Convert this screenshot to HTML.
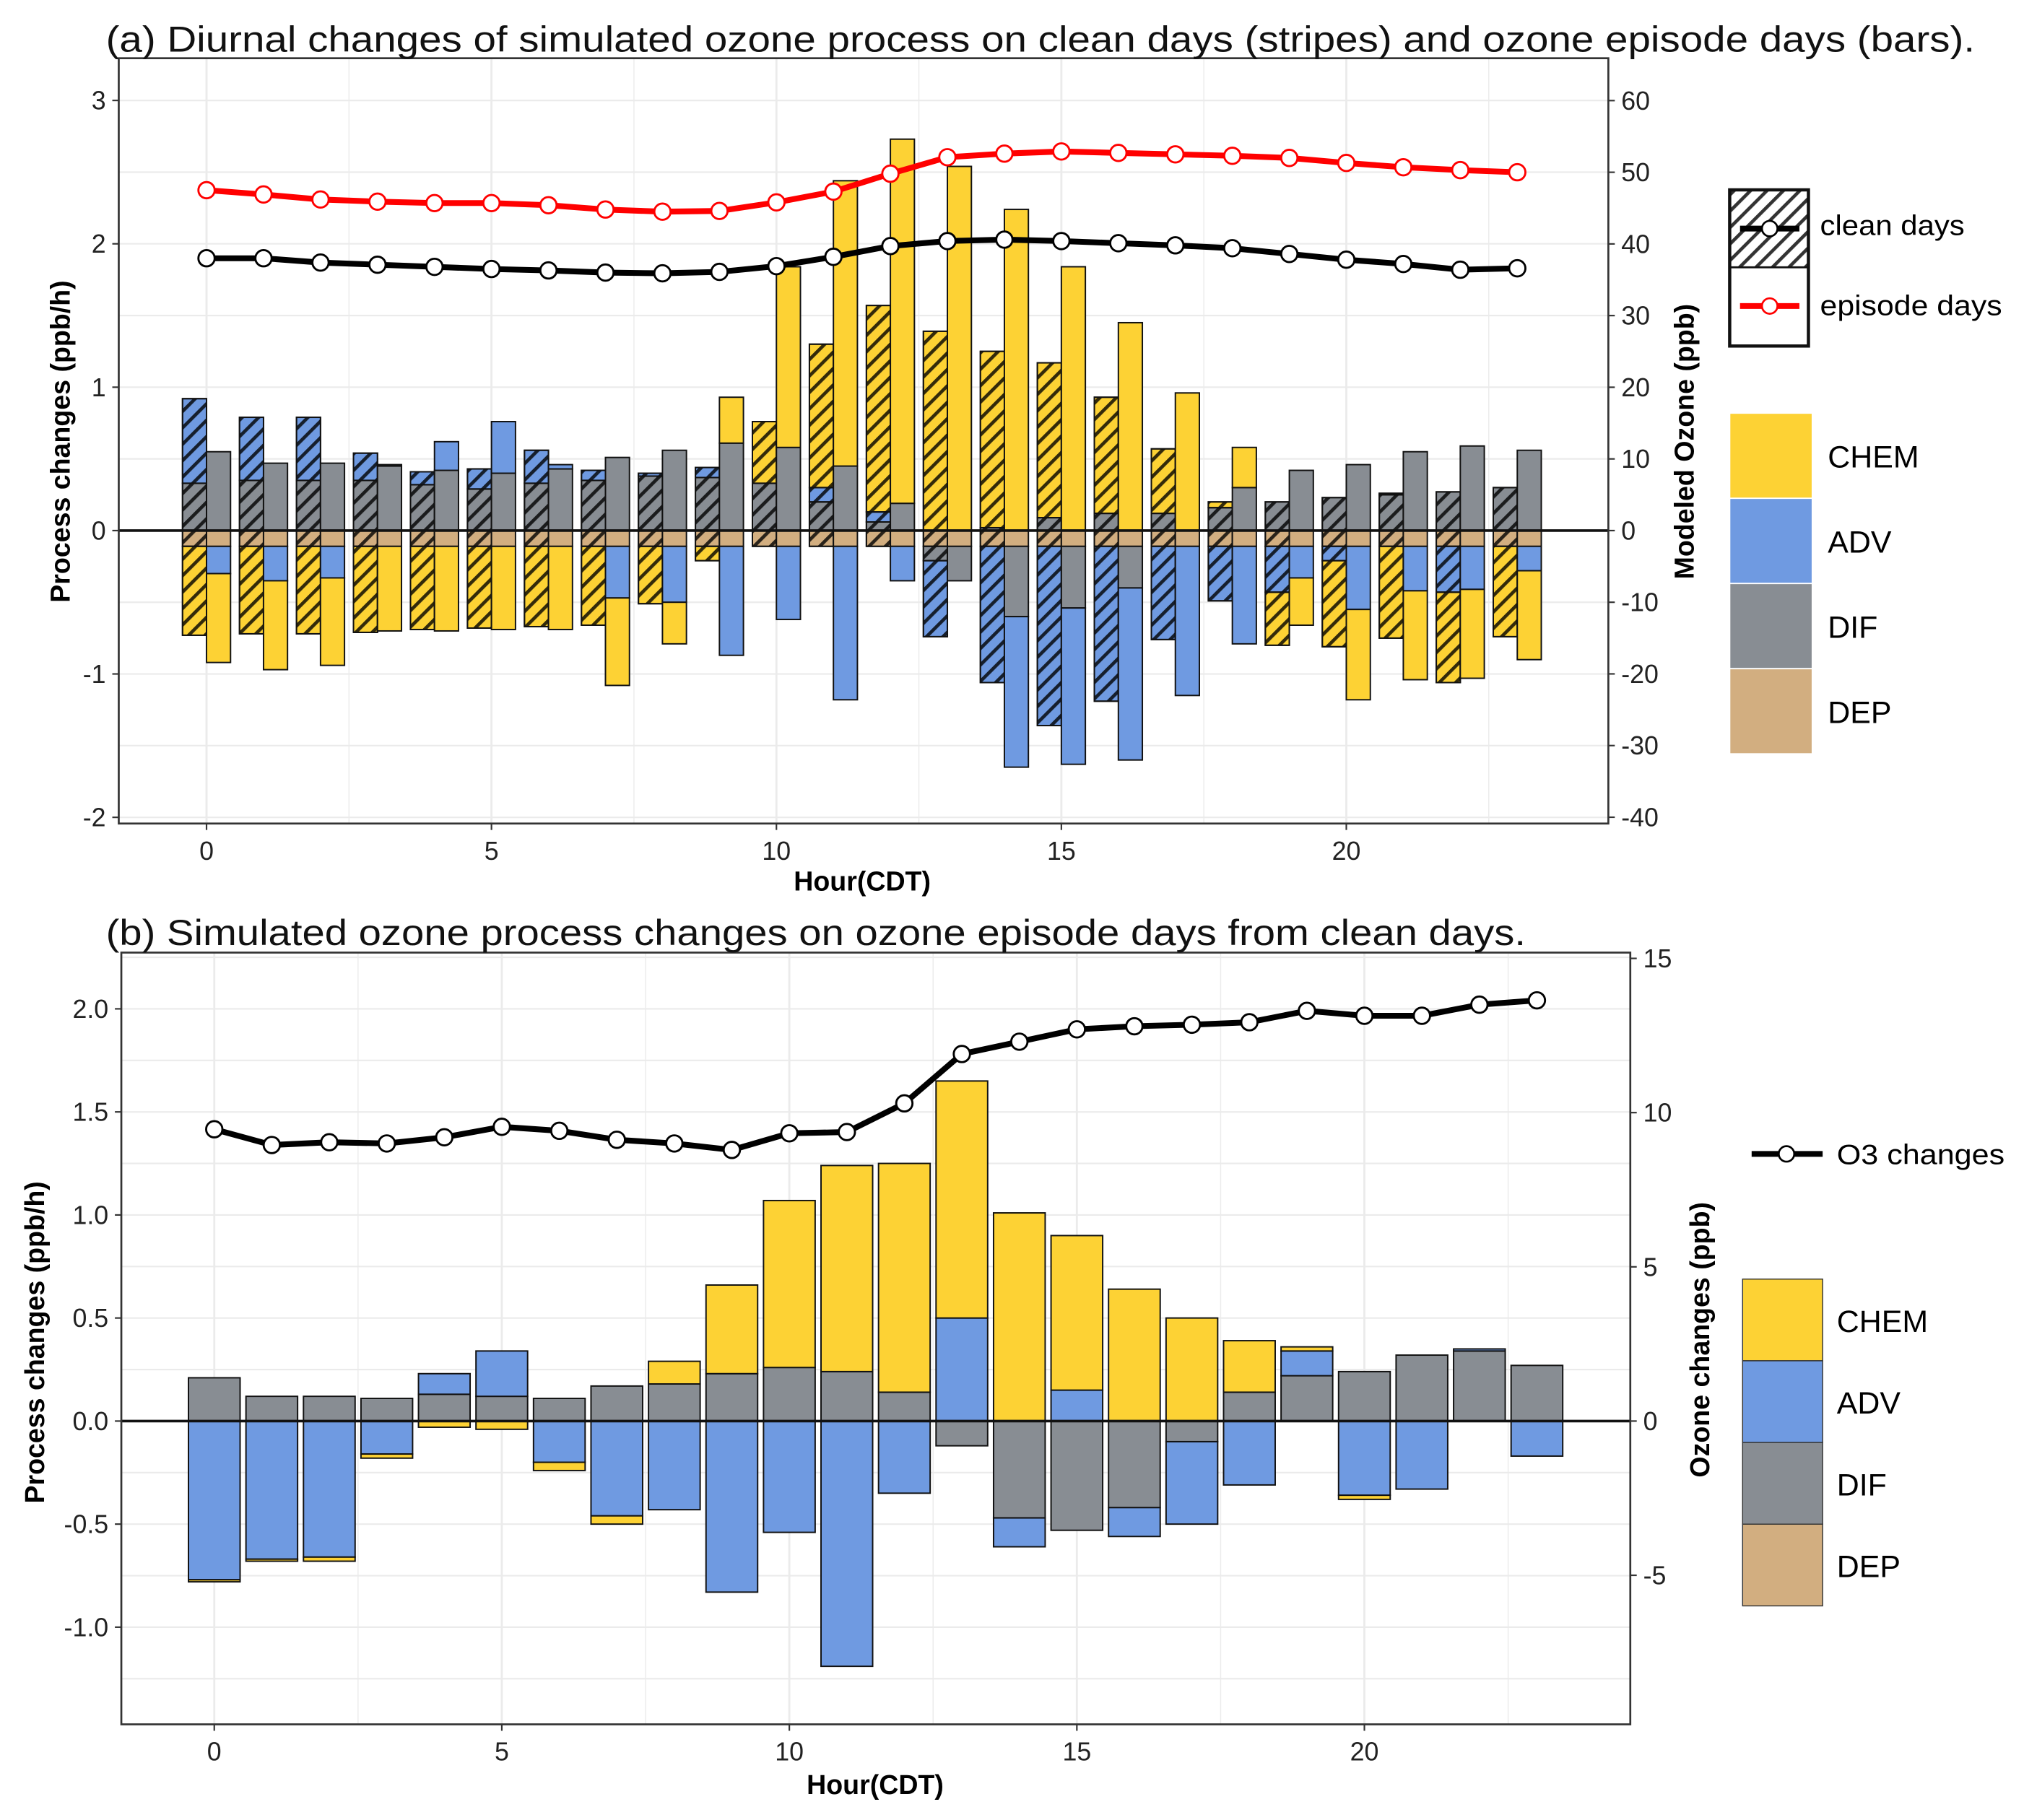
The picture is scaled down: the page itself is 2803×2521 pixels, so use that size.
<!DOCTYPE html>
<html><head><meta charset="utf-8"><style>
html,body{margin:0;padding:0;background:#fff;}
svg{display:block;font-family:"Liberation Sans",Arial,sans-serif;}
</style></head><body>
<svg id="fig" xmlns="http://www.w3.org/2000/svg" width="2803" height="2521" viewBox="0 0 1568 1410">
<defs>
<pattern id="hatch" patternUnits="userSpaceOnUse" width="9" height="9" patternTransform="rotate(45)">
<rect x="0" y="0" width="2.6" height="9" fill="#000" fill-opacity="0.8"/>
</pattern>
</defs>
<rect x="0" y="0" width="1568" height="1410" fill="#fff"/>
<g id="pa"></g>
<g id="pb"></g>
</svg>
<script>
const hours = [0,1,2,3,4,5,6,7,8,9,10,11,12,13,14,15,16,17,18,19,20,21,22,23];
// Panel a - clean days
const cleanCHEM = [-0.62,-0.61,-0.61,-0.60,-0.58,-0.57,-0.56,-0.55,-0.40,-0.10,0.43,1.00,1.44,1.39,1.23,1.08,0.81,0.45,0.04,-0.37,-0.60,-0.64,-0.63,-0.63];
const cleanADV  = [0.59,0.44,0.44,0.19,0.09,0.14,0.23,0.07,0.02,0.07,0,0.10,0.07,-0.53,-0.95,-1.25,-1.08,-0.65,-0.38,-0.32,-0.10,0.01,-0.32,0];
const cleanDIF  = [0.33,0.35,0.35,0.35,0.32,0.29,0.33,0.35,0.38,0.37,0.33,0.20,0.06,-0.10,0.02,0.09,0.12,0.12,0.16,0.20,0.23,0.25,0.27,0.30];
const cleanDEP  = [-0.11,-0.11,-0.11,-0.11,-0.11,-0.11,-0.11,-0.11,-0.11,-0.11,-0.11,-0.11,-0.11,-0.11,-0.11,-0.11,-0.11,-0.11,-0.11,-0.11,-0.11,-0.11,-0.11,-0.11];
// Panel a - episode days
const epiCHEM = [-0.62,-0.62,-0.61,-0.59,-0.59,-0.58,-0.58,-0.61,-0.29,0.32,1.26,1.99,2.54,2.54,2.24,1.84,1.45,0.96,0.28,-0.33,-0.63,-0.62,-0.62,-0.62];
const epiADV  = [-0.19,-0.24,-0.22,0.01,0.20,0.36,0.03,-0.36,-0.39,-0.76,-0.51,-1.07,-0.24,0,-1.05,-1.09,-1.20,-1.04,-0.68,-0.22,-0.44,-0.31,-0.30,-0.17];
const epiDIF  = [0.55,0.47,0.47,0.45,0.42,0.40,0.43,0.51,0.56,0.61,0.58,0.45,0.19,-0.24,-0.49,-0.43,-0.29,0,0.30,0.42,0.46,0.55,0.59,0.56];
const epiDEP  = [-0.11,-0.11,-0.11,-0.11,-0.11,-0.11,-0.11,-0.11,-0.11,-0.11,-0.11,-0.11,-0.11,-0.11,-0.11,-0.11,-0.11,-0.11,-0.11,-0.11,-0.11,-0.11,-0.11,-0.11];
const cleanO3 = [38.0,38.0,37.4,37.1,36.8,36.5,36.3,36.0,35.9,36.1,36.9,38.2,39.7,40.4,40.6,40.4,40.1,39.8,39.4,38.6,37.8,37.2,36.4,36.6];
const epiO3   = [47.5,46.9,46.2,45.9,45.7,45.7,45.4,44.8,44.5,44.6,45.8,47.3,49.8,52.1,52.6,52.9,52.7,52.5,52.3,52.0,51.3,50.7,50.3,50.0];
const aLeftTicks = [-2,-1,0,1,2,3];
const aRightTicks = [-40,-30,-20,-10,0,10,20,30,40,50,60];
const xTicks = [0,5,10,15,20];
// Panel b
const bCHEM = [-0.01,-0.01,-0.02,-0.02,-0.03,-0.04,-0.04,-0.04,0.11,0.43,0.81,1.00,1.11,1.15,1.01,0.75,0.64,0.50,0.25,0.02,-0.02,0,0,0];
const bADV  = [-0.77,-0.67,-0.66,-0.16,0.10,0.22,-0.20,-0.46,-0.43,-0.83,-0.54,-1.19,-0.35,0.50,-0.14,0.15,-0.14,-0.40,-0.31,0.12,-0.36,-0.33,0.01,-0.17];
const bDIF  = [0.21,0.12,0.12,0.11,0.13,0.12,0.11,0.17,0.18,0.23,0.26,0.24,0.14,-0.12,-0.47,-0.53,-0.42,-0.10,0.14,0.22,0.24,0.32,0.34,0.27];
const bDEP  = [0,0,0,0,0,0,0,0,0,0,0,0,0,0,0,0,0,0,0,0,0,0,0,0];
const bO3   = [9.46,8.95,9.04,9.0,9.2,9.54,9.41,9.12,9.0,8.79,9.33,9.37,10.3,11.9,12.3,12.7,12.8,12.85,12.93,13.3,13.14,13.14,13.5,13.64];
const bLeftTicks = [-1.0,-0.5,0.0,0.5,1.0,1.5,2.0];
const bRightTicks = [-5,0,5,10,15];
const COL = {CHEM:'#fdd234',ADV:'#6f9ae1',DIF:'#888d93',DEP:'#d2ae80'};
const NS = 'http://www.w3.org/2000/svg';
function mk(parent, tag, attrs, text){
  const e = document.createElementNS(NS, tag);
  for (const k in attrs) e.setAttribute(k, attrs[k]);
  if (text !== undefined) e.textContent = text;
  parent.appendChild(e);
  return e;
}
const axA = {x:h=>160+h*44.15, y:v=>411-v*111.1, yr:v=>411-v*5.553};
const axB = {x:h=>166+h*44.55, y:v=>1101-v*159.7, yr:v=>1101-v*23.9};

function drawPanel(g, box, ax, leftTicks, leftMinor, rightTicks, fmt){
  const bg = mk(g,'rect',{x:box[0],y:box[1],width:box[2]-box[0],height:box[3]-box[1],fill:'#fff'});
  
  
  for (let h=-2.5; h<=25; h+=2.5){
    const x = ax.x(h); if (x<box[0]||x>box[2]) continue;
    const l = mk(g,'line',{x1:x,x2:x,y1:box[1],y2:box[3],stroke:'#ebebeb','stroke-width':(h%5===0)?1.6:0.8});
    
    
  }
  leftMinor.forEach(v=>{
    const y = ax.y(v); if (y<box[1]||y>box[3]) return;
    const l = mk(g,'line',{x1:box[0],x2:box[2],y1:y,y2:y,stroke:'#ebebeb','stroke-width':1.2});
    
    
  });
  leftTicks.forEach(v=>{
    const y = ax.y(v);
    const t = mk(g,'text',{x:box[0]-10,y:y+7,'font-size':20,'text-anchor':'end',fill:'#222'},fmt(v));
    
    
    mk(g,'line',{x1:box[0]-5,x2:box[0],y1:y,y2:y,stroke:'#333','stroke-width':1.2});
  });
  rightTicks.forEach(v=>{
    const y = ax.yr(v);
    const t = mk(g,'text',{x:box[2]+10,y:y+7,'font-size':20,fill:'#222'},String(v));
    
    
    mk(g,'line',{x1:box[2],x2:box[2]+5,y1:y,y2:y,stroke:'#333','stroke-width':1.2});
  });
  xTicks.forEach(h=>{
    const x = ax.x(h);
    const t = mk(g,'text',{x:x,y:box[3]+28,'font-size':20,'text-anchor':'middle',fill:'#222'},String(h));
    
    
    mk(g,'line',{x1:x,x2:x,y1:box[3],y2:box[3]+5,stroke:'#333','stroke-width':1.2});
  });
}
function stackBars(g, ax, i, center, w, vals, hatched){
  let pos = 0, neg = 0;
  const order = ['DEP','DIF','ADV','CHEM'];
  order.forEach(k=>{
    const v = vals[k][i];
    if (!v) return;
    let a, b;
    if (v > 0){ a = pos; b = pos + v; pos = b; } else { a = neg; b = neg + v; neg = b; }
    const y1 = ax.y(Math.max(a,b)), y2 = ax.y(Math.min(a,b));
    const r = mk(g,'rect',{x:center-w/2,y:y1,width:w,height:Math.max(y2-y1,0.5),fill:COL[k],stroke:'#111','stroke-width':1.1});
    
    
    if (hatched){
      const hr = mk(g,'rect',{x:center-w/2,y:y1,width:w,height:Math.max(y2-y1,0.5),fill:'url(#hatch)',stroke:'#111','stroke-width':1.1});
      
      
    }
  });
}
function line(g, ax, data, color, name){
  const pts = hours.map((h,i)=>ax.x(h)+','+ax.yr(data[i])).join(' ');
  const pl = mk(g,'polyline',{points:pts,fill:'none',stroke:color,'stroke-width':4.5,'stroke-linejoin':'round'});
  
  
  hours.forEach((h,i)=>{
    const c = mk(g,'circle',{cx:ax.x(h),cy:ax.yr(data[i]),r:6.3,fill:'#fff',stroke:color,'stroke-width':1.6});
    
    
  });
}
function txt(g, attrs, s, name){
  const t = mk(g,'text',attrs,s);
  
  
  return t;
}
// ---------- Panel A ----------
const ga = document.getElementById('pa');
const boxA = [92,45,1246,638];
drawPanel(ga, boxA, axA, aLeftTicks, [-2,-1.5,-1,-0.5,0,0.5,1,1.5,2,2.5,3], aRightTicks, v=>String(v));
const cleanVals = {CHEM:cleanCHEM,ADV:cleanADV,DIF:cleanDIF,DEP:cleanDEP};
const epiVals = {CHEM:epiCHEM,ADV:epiADV,DIF:epiDIF,DEP:epiDEP};
hours.forEach((h,i)=>{
  stackBars(ga, axA, i, axA.x(h)-9.3, 18.6, cleanVals, true);
  stackBars(ga, axA, i, axA.x(h)+9.3, 18.6, epiVals, false);
});
mk(ga,'line',{x1:boxA[0],x2:boxA[2],y1:axA.y(0),y2:axA.y(0),stroke:'#111','stroke-width':2});
line(ga, axA, cleanO3, '#000', 'clean-ozone');
line(ga, axA, epiO3, '#ff0000', 'episode-ozone');
mk(ga,'rect',{x:boxA[0],y:boxA[1],width:boxA[2]-boxA[0],height:boxA[3]-boxA[1],fill:'none',stroke:'#333','stroke-width':1.5});
txt(ga,{x:82,y:40,'font-size':28,fill:'#111',textLength:1448,lengthAdjust:'spacingAndGlyphs'},'(a) Diurnal changes of simulated ozone process on clean days (stripes) and ozone episode days (bars).','panel-a-title');
txt(ga,{x:54,y:342,'font-size':21,'font-weight':'bold','text-anchor':'middle',transform:'rotate(-90 54 342)'},'Process changes (ppb/h)','y-axis-title-left');
txt(ga,{x:1312,y:342,'font-size':21,'font-weight':'bold','text-anchor':'middle',transform:'rotate(-90 1312 342)'},'Modeled Ozone (ppb)','y-axis-title-right');
txt(ga,{x:668,y:690,'font-size':21,'font-weight':'bold','text-anchor':'middle'},'Hour(CDT)','x-axis-title');
const la = mk(ga,'g',{});


mk(la,'rect',{x:1340,y:147,width:61,height:60,fill:'url(#hatch)',stroke:'none'});
mk(la,'rect',{x:1340,y:147,width:61,height:121,fill:'none',stroke:'#111','stroke-width':2.5});
mk(la,'line',{x1:1340,x2:1401,y1:207,y2:207,stroke:'#111','stroke-width':1.5});
mk(la,'line',{x1:1348,x2:1394,y1:177,y2:177,stroke:'#000','stroke-width':4.5});
mk(la,'circle',{cx:1371,cy:177,r:6,fill:'#fff',stroke:'#000','stroke-width':1.5});
mk(la,'line',{x1:1348,x2:1394,y1:237,y2:237,stroke:'#ff0000','stroke-width':4.5});
mk(la,'circle',{cx:1371,cy:237,r:6,fill:'#fff',stroke:'#ff0000','stroke-width':1.5});
txt(la,{x:1410,y:182,'font-size':22,textLength:112,lengthAdjust:'spacingAndGlyphs'},'clean days','legend-clean-days');
txt(la,{x:1410,y:244,'font-size':22,textLength:141,lengthAdjust:'spacingAndGlyphs'},'episode days','legend-episode-days');
const lka = mk(ga,'g',{});


['CHEM','ADV','DIF','DEP'].forEach((k,j)=>{
  const r = mk(lka,'rect',{x:1340,y:320+j*66,width:64,height:66,fill:COL[k],stroke:'#fff','stroke-width':1});
  
  
  txt(lka,{x:1416,y:362+j*66,'font-size':24},k,'legend-label-'+k.toLowerCase());
});
// ---------- Panel B ----------
const gb = document.getElementById('pb');
const boxB = [94,738,1263,1336];
drawPanel(gb, boxB, axB, bLeftTicks, [-1.25,-1,-0.75,-0.5,-0.25,0,0.25,0.5,0.75,1,1.25,1.5,1.75,2,2.25], bRightTicks, v=>v.toFixed(1));
const bVals = {CHEM:bCHEM,ADV:bADV,DIF:bDIF,DEP:bDEP};
hours.forEach((h,i)=>{ stackBars(gb, axB, i, axB.x(h), 40, bVals, false); });
mk(gb,'line',{x1:boxB[0],x2:boxB[2],y1:axB.y(0),y2:axB.y(0),stroke:'#111','stroke-width':2});
line(gb, axB, bO3, '#000', 'o3-changes');
mk(gb,'rect',{x:boxB[0],y:boxB[1],width:boxB[2]-boxB[0],height:boxB[3]-boxB[1],fill:'none',stroke:'#333','stroke-width':1.5});
txt(gb,{x:82,y:732,'font-size':28,fill:'#111',textLength:1100,lengthAdjust:'spacingAndGlyphs'},'(b) Simulated ozone process changes on ozone episode days from clean days.','panel-b-title');
txt(gb,{x:34,y:1040,'font-size':21,'font-weight':'bold','text-anchor':'middle',transform:'rotate(-90 34 1040)'},'Process changes (ppb/h)','y-axis-title-left-b');
txt(gb,{x:1324,y:1038,'font-size':21,'font-weight':'bold','text-anchor':'middle',transform:'rotate(-90 1324 1038)'},'Ozone changes (ppb)','y-axis-title-right-b');
txt(gb,{x:678,y:1390,'font-size':21,'font-weight':'bold','text-anchor':'middle'},'Hour(CDT)','x-axis-title-b');
const lb = mk(gb,'g',{});


mk(lb,'line',{x1:1357,x2:1412,y1:894,y2:894,stroke:'#000','stroke-width':4.5});
mk(lb,'circle',{cx:1384,cy:894,r:6,fill:'#fff',stroke:'#000','stroke-width':1.5});
txt(lb,{x:1423,y:902,'font-size':22,textLength:130,lengthAdjust:'spacingAndGlyphs'},'O3 changes','legend-o3-changes');
['CHEM','ADV','DIF','DEP'].forEach((k,j)=>{
  const r = mk(lb,'rect',{x:1350,y:991+j*63.3,width:62,height:63.3,fill:COL[k],stroke:'#333','stroke-width':0.8});
  
  
  txt(lb,{x:1423,y:1032+j*63.3,'font-size':24},k,'legend-b-label-'+k.toLowerCase());
});
</script>
</body></html>
